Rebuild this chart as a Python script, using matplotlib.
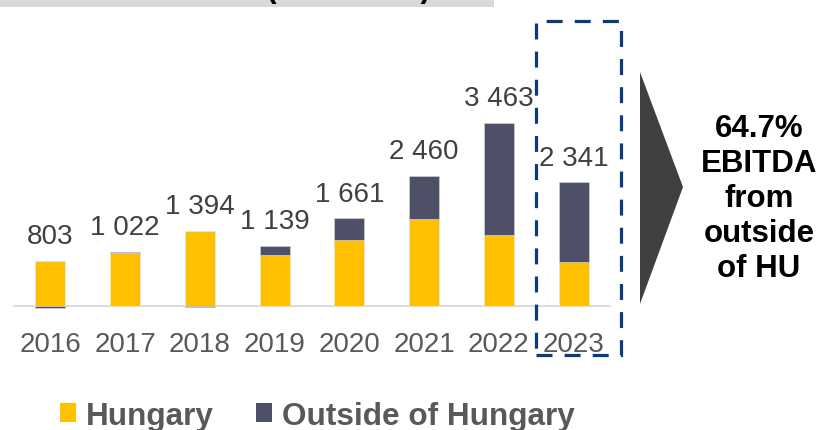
import matplotlib
matplotlib.use("Agg")
import matplotlib.pyplot as plt
import matplotlib.patches as mpatches
import matplotlib.transforms as mtransforms
import numpy as np

plt.rcParams['font.family'] = ['Liberation Sans', 'DejaVu Sans']

years = ["2016", "2017", "2018", "2019", "2020", "2021", "2022", "2023"]
hungary = [853, 1007, 1420, 953, 1244, 1635, 1345, 826]
outside = [-50, 15, -26, 186, 417, 825, 2118, 1515]
totals = [803, 1022, 1394, 1139, 1661, 2460, 3463, 2341]
highlight_text = "64.7%\nEBITDA\nfrom\noutside\nof HU"
title_text = "EBITDA breakdown (in HUF bn)"

W, H = 823, 431
fig = plt.figure(figsize=(W / 100, H / 100), dpi=100)

def fx(px):
    return px / W

def fy(py):
    return 1 - py / H

ax_left, ax_right, ax_top, ax_bot = 13, 611, 40, 330
ax = fig.add_axes([fx(ax_left), fy(ax_bot), (ax_right - ax_left) / W, (ax_bot - ax_top) / H])

YEL = "#FFC000"
DARK = "#4D5066"
x = np.arange(len(years))
hun = np.array(hungary, dtype=float)
out = np.array(outside, dtype=float)
out_bottom = np.where(out >= 0, hun, 0)

ax.bar(x, hun, width=0.4, color=YEL, edgecolor="#E6E6E6", linewidth=0.5, label="Hungary", zorder=2)
ax.bar(x, out, width=0.4, bottom=out_bottom, color=DARK, edgecolor="#D0D0D0", linewidth=0.5,
       label="Outside of Hungary", zorder=2)

ax.axhline(0, color="#D9D9D9", linewidth=1.3, zorder=1)

tops = hun + np.clip(out, 0, None)
for xi, t, tot in zip(x, tops, totals):
    lbl = f"{tot:,}".replace(",", " ")
    ax.annotate(lbl, (xi, t), xytext=(0, 12.5), textcoords="offset points",
                ha="center", va="baseline", fontsize=20, color="#404040", zorder=3)

ax.set_xlim(-0.5, len(years) - 0.5)
ax.set_ylim(-441, 5051)
ax.set_xticks(x)
ax.set_xticklabels(years, fontsize=20, color="#595959")
ax.tick_params(axis="x", length=0, pad=1.2)
ax.set_yticks([])
for s in ax.spines.values():
    s.set_visible(False)
ax.patch.set_alpha(0)

# highlight dashed box around last bar
trans = mtransforms.blended_transform_factory(ax.transData, fig.transFigure)
bx0, bx1 = len(years) - 1 - 0.51, len(years) - 1 + 0.64
rect = mpatches.Rectangle((bx0, fy(356)), bx1 - bx0, fy(22) - fy(356), transform=trans,
                          fill=False, edgecolor="#0A3C7D", linewidth=2.3,
                          linestyle=(0, (5.0, 3.8)), clip_on=False, zorder=4)
fig.add_artist(rect)

# arrow/triangle
tri = mpatches.Polygon([(fx(640), fy(73)), (fx(640), fy(305)), (fx(683), fy(188))],
                       closed=True, transform=fig.transFigure, facecolor="#404040",
                       edgecolor="none")
fig.add_artist(tri)

fig.text(fx(759), fy(199), highlight_text, ha="center", va="center", fontsize=22.5,
         fontweight="bold", color="black", linespacing=1.22)

# top banner (cut off at the top edge)
band = mpatches.Rectangle((0, fy(8.3)), fx(494), 1 - fy(8.3), transform=fig.transFigure,
                          facecolor="#D9D9D9", edgecolor="none", zorder=0)
fig.add_artist(band)
fig.text(fx(431), fy(-3.0), title_text, ha="right", va="baseline", fontsize=22,
         fontweight="bold", color="black")

# legend
handles, labels = ax.get_legend_handles_labels()
leg = fig.legend(handles, labels, loc="center left", bbox_to_anchor=(fx(60), fy(417)),
                 ncol=2, frameon=False, prop={"size": 22.7, "weight": "bold"},
                 handlelength=0.5, handleheight=0.55, handletextpad=0.32,
                 columnspacing=1.35, borderaxespad=0, borderpad=0)
for t in leg.get_texts():
    t.set_color("#595959")
for h in leg.legend_handles:
    h.set_edgecolor("none")

fig.savefig("out.png", dpi=100)
